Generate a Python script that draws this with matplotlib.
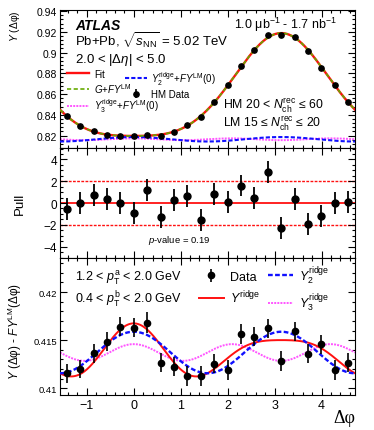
import numpy as np
import matplotlib
matplotlib.use("Agg")
import matplotlib.pyplot as plt
from matplotlib.ticker import MultipleLocator, FuncFormatter

# values
top_vals = [0.8387, 0.8296, 0.8242, 0.8210, 0.8200, 0.8193, 0.8206, 0.8197, 0.8238, 0.8303, 0.8377,
            0.8522, 0.8683, 0.8869, 0.9027, 0.9165, 0.9172, 0.9149, 0.9011, 0.8850, 0.8683, 0.8522]
top_err = [0.0008] * 22
pull_vals = [-0.58, 0.0, 0.77, 0.34, 0.0, -0.92, 1.17, -1.29, 0.25, 0.61, -1.53,
             0.80, 0.09, 1.60, 0.46, 2.85, -2.30, 0.40, -1.90, -1.20, 0.0, 0.09]
pull_err = [1.0] * 22
bot_vals = [0.41156, 0.41201, 0.41365, 0.41483, 0.41639, 0.41632, 0.41684, 0.41267, 0.41226, 0.41128, 0.41128,
            0.41257, 0.41191, 0.41563, 0.41538, 0.41622, 0.41285, 0.41594, 0.41361, 0.41458, 0.41191, 0.41267]
bot_err = [0.00098, 0.00095, 0.00100, 0.00100, 0.00100, 0.00100, 0.00105, 0.00100, 0.00100, 0.00100, 0.00100,
           0.00100, 0.00100, 0.00105, 0.00100, 0.00100, 0.00105, 0.00100, 0.00100, 0.00100, 0.00100, 0.00100]

# fit curves as cosine series coefficients (c0, v1, v2, ...)
fit_coef = [0.85683, -0.04865, 0.01213, -0.00092, 0.00023]
ridge_c0 = 0.41372
ridge_v2 = 0.00216
ridge_v3 = 0.00087
fy_lm0 = 0.4027
pull_lines = [-2, 0, 2]

plt.rcParams["font.family"] = ["Liberation Sans", "DejaVu Sans"]
plt.rcParams["mathtext.fontset"] = "custom"
plt.rcParams["mathtext.rm"] = "Liberation Sans"
plt.rcParams["mathtext.it"] = "Liberation Sans:italic"
plt.rcParams["mathtext.bf"] = "Liberation Sans:bold"
plt.rcParams["axes.linewidth"] = 0.8

edges = np.linspace(-np.pi / 2, 3 * np.pi / 2, len(top_vals) + 1)
x = 0.5 * (edges[1:] + edges[:-1])
phi = np.linspace(-np.pi / 2, 3 * np.pi / 2, 500)


def cos_series(coef, p):
    return sum(c * np.cos(n * p) for n, c in enumerate(coef))


fit_curve = cos_series(fit_coef, phi)
y2 = cos_series([ridge_c0, 0, ridge_v2], phi)
y3 = cos_series([ridge_c0, 0, 0, ridge_v3], phi)
yr = cos_series([ridge_c0, 0, ridge_v2, ridge_v3], phi)

W, H = 374, 431
fig = plt.figure(figsize=(W / 100, H / 100), dpi=100)


def ax_rect(top, bottom):
    return [60 / W, 1 - bottom / H, 295 / W, (bottom - top) / H]


def px(xp, yp):
    return xp / W, 1 - yp / H


fmt = FuncFormatter(lambda v, pos: ("%g" % v).replace("-", "\u2212"))


def style(ax, ymaj, ymin, ysize):
    ax.set_xlim(-np.pi / 2, 3 * np.pi / 2)
    ax.xaxis.set_major_locator(MultipleLocator(1))
    ax.xaxis.set_minor_locator(MultipleLocator(0.2))
    ax.yaxis.set_major_locator(MultipleLocator(ymaj))
    ax.yaxis.set_minor_locator(MultipleLocator(ymin))
    ax.yaxis.set_major_formatter(fmt)
    ax.xaxis.set_major_formatter(fmt)
    ax.tick_params(which="both", direction="in", top=True, right=True, width=0.8)
    ax.tick_params(which="major", length=5)
    ax.tick_params(which="minor", length=2.5)
    ax.tick_params(axis="y", labelsize=ysize, pad=2)
    ax.tick_params(axis="x", labelsize=9, pad=3)


# top panel
ax1 = fig.add_axes(ax_rect(10.5, 149))
style(ax1, 0.02, 0.004, 7.5)
ax1.set_ylim(0.808, 0.9415)
ax1.tick_params(labelbottom=False)
l_fit, = ax1.plot(phi, fit_curve, color="#ff1010", lw=1.7, zorder=3)
l_g, = ax1.plot(phi, fit_curve, color="#66aa00", lw=1.2, ls=(0, (2.5, 1.5)), zorder=4)
l_y2t, = ax1.plot(phi, y2 + fy_lm0, color="#1010ff", lw=1.5, ls=(0, (2, 1)), zorder=3)
l_y3t, = ax1.plot(phi, y3 + fy_lm0, color="#ff55ff", lw=1.4, ls=(0, (1, 0.6)), zorder=2)
e_top = ax1.errorbar(x, top_vals, yerr=top_err, fmt="o", color="black", ms=3.8, elinewidth=1.2, zorder=5)

leg1 = ax1.legend([l_fit, l_g, l_y3t],
                  ["Fit", "$G$+$FY^{\\rm LM}$", "$Y_{3}^{\\rm ridge}$+$FY^{\\rm LM}$(0)"],
                  loc="upper left", bbox_to_anchor=(0.024, 0.572), frameon=False, fontsize=7,
                  handlelength=2.3, handletextpad=0.5, labelspacing=0.2, borderpad=0, borderaxespad=0)
ax1.add_artist(leg1)
ax1.legend([l_y2t, e_top], ["$Y_{2}^{\\rm ridge}$+$FY^{\\rm LM}$(0)", "HM Data"],
           loc="upper left", bbox_to_anchor=(0.22, 0.572), frameon=False, fontsize=7,
           handlelength=2.3, handletextpad=0.4, labelspacing=0.25, borderpad=0, borderaxespad=0)

# pull panel
ax2 = fig.add_axes(ax_rect(149, 258.5))
style(ax2, 2, 0.5, 8.5)
ax2.set_ylim(-5, 5.05)
ax2.tick_params(labelbottom=False)
for v in pull_lines:
    ax2.axhline(v, color="#ff1010", lw=1.3 if v == 0 else 1.0, ls="-" if v == 0 else (0, (2, 1)), zorder=1)
ax2.errorbar(x, pull_vals, yerr=pull_err, fmt="o", color="black", ms=5, elinewidth=1.3, zorder=3)

# bottom panel
ax3 = fig.add_axes(ax_rect(258.5, 396))
style(ax3, 0.005, 0.001, 6.8)
ax3.set_ylim(0.4093, 0.4236)
l_yr, = ax3.plot(phi, yr, color="#ff1010", lw=1.4, zorder=3)
l_y2, = ax3.plot(phi, y2, color="#1010ff", lw=1.7, ls=(0, (2, 1)), zorder=3)
l_y3, = ax3.plot(phi, y3, color="#ff55ff", lw=1.4, ls=(0, (1, 0.6)), zorder=2)
e_bot = ax3.errorbar(x, bot_vals, yerr=bot_err, fmt="o", color="black", ms=4.5, elinewidth=1.2, zorder=4)
ax3.legend([e_bot, l_yr, l_y2, l_y3],
           ["Data", "$Y^{\\rm ridge}$", "$Y_{2}^{\\rm ridge}$", "$Y_{3}^{\\rm ridge}$"],
           ncol=2, loc="upper left", bbox_to_anchor=(0.47, 0.95), frameon=False, fontsize=9,
           handlelength=2.0, handletextpad=0.5, labelspacing=0.45, columnspacing=0.6,
           borderpad=0, borderaxespad=0)

# texts
fig.text(*px(75, 29.5), "ATLAS", fontsize=10, fontweight="bold", fontstyle="italic", va="baseline")
fig.text(*px(75, 47), "Pb+Pb, $\\sqrt{s_{\\rm NN}}$ = 5.02 TeV", fontsize=9.5, va="baseline")
fig.text(*px(75, 63), "2.0 < $|\\Delta\\eta|$ < 5.0", fontsize=9.5, va="baseline")
fig.text(*px(337, 29.3), "1.0 \u03bcb$^{-1}$ - 1.7 nb$^{-1}$", fontsize=9, va="baseline", ha="right")
fig.text(*px(223, 109), "HM 20 < $N_{\\rm ch}^{\\rm rec}$ \u2264 60", fontsize=8.8, va="baseline")
fig.text(*px(223, 127), "LM 15 \u2264 $N_{\\rm ch}^{\\rm rec}$ \u2264 20", fontsize=8.8, va="baseline")
fig.text(*px(148, 242.7), "$p$-value = 0.19", fontsize=6.8, va="baseline")
fig.text(*px(75, 281.7), "1.2 < $p_{\\rm T}^{\\rm a}$ < 2.0 GeV", fontsize=9, va="baseline")
fig.text(*px(75, 304), "0.4 < $p_{\\rm T}^{\\rm b}$ < 2.0 GeV", fontsize=9, va="baseline")
fig.text(*px(355, 423), "\u0394\u03c6", fontsize=13, family="Liberation Serif", va="baseline", ha="right")
fig.text(*px(15, 10), "$Y$ (\u0394\u03c6)", fontsize=7.5, rotation=90, ha="center", va="top")
fig.text(*px(20, 204), "Pull", fontsize=9.5, rotation=90, ha="center", va="center")
fig.text(*px(15, 331), "$Y$ (\u0394\u03c6) - $FY^{\\rm LM}$(\u0394\u03c6)", fontsize=8.5,
         rotation=90, ha="center", va="center")

fig.savefig("out.png", dpi=100)
